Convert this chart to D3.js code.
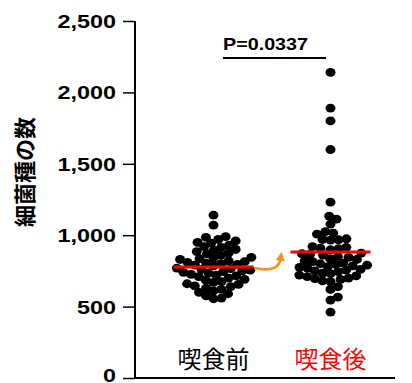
<!DOCTYPE html>
<html><head><meta charset="utf-8">
<script src="https://cdn.jsdelivr.net/npm/d3@7"></script>
<style>
html,body{margin:0;padding:0;background:#fff;}
svg{display:block;}
</style>
</head><body>
<svg id="c" width="412" height="383"></svg>
<script>
// ---- data ----
const categories = ["喫食前", "喫食後"];
const categoryColors = ["#000000", "#ff0000"];
const beforeValues = [1141, 1071,
  990, 985, 970, 960, 950, 945,
  930, 920, 915, 900, 895, 885, 875, 870, 860,
  845, 840, 835, 830, 820, 815, 810, 805, 800, 795, 790, 785,
  770, 765, 760, 755, 750, 745, 740, 735, 725, 720, 715, 710,
  700, 690, 685, 675, 670, 660, 655, 645, 640,
  630, 620, 610, 600, 590, 575, 560, 555];
const afterValues = [2140, 1890, 1800, 1600,
  1232, 1134, 1113, 1078,
  1025, 1015, 1008,
  975, 970, 968, 965,
  920, 915, 910, 905, 898,
  875, 870, 865, 860, 850, 845, 835, 830, 820, 815,
  805, 800, 795, 790, 785, 780, 775, 770, 760, 755, 750, 745,
  735, 730, 720, 715, 710, 700, 695, 690, 680, 675,
  640, 620, 567, 546, 462];
const centerLines = [777, 882];
const yTicks = [0, 500, 1000, 1500, 2000, 2500];
const pLabel = "P=0.0337";
const yLabel = "細菌種の数";

// ---- layout ----
const svg = d3.select("#c");
const axisX = 135, yBottom = 378, yTop = 21;
const y = d3.scaleLinear().domain([0, 2500]).range([yBottom, yTop]);
const x = d3.scaleBand().domain(categories).range([155, 389]).padding(0);
const cx = c => x(c) + x.bandwidth() / 2;

// y axis
const yAxis = d3.axisLeft(y).tickValues(yTicks).tickSize(12).tickPadding(7)
  .tickFormat(d3.format(","));
const gy = svg.append("g").attr("transform", `translate(${axisX},0)`).call(yAxis);
gy.select(".domain").attr("stroke", "#000").attr("stroke-width", 2)
  .attr("d", `M0,${yTop}V${yBottom}`);
gy.selectAll(".tick line").attr("stroke", "#000").attr("stroke-width", 1.5);
const sx = 1.3;
gy.selectAll(".tick text")
  .attr("font-family", "Liberation Sans, Arial, sans-serif")
  .attr("font-weight", "bold").attr("font-size", 18).attr("fill", "#000")
  .attr("x", -19 / sx).attr("dy", d => d === 0 ? "0.2em" : "0.36em")
  .attr("transform", `scale(${sx},1)`);

// x axis line
svg.append("line").attr("x1", axisX).attr("x2", 395)
  .attr("y1", yBottom).attr("y2", yBottom)
  .attr("stroke", "#000").attr("stroke-width", 2);

// y label
svg.append("text")
  .attr("transform", `translate(33,172) rotate(-90)`)
  .attr("text-anchor", "middle")
  .attr("font-family", "Noto Sans CJK JP")
  .attr("font-weight", "bold").attr("font-size", 22)
  .text(yLabel);

// beeswarm
const rx = 5, ry = 4.4;
const D = 7.6, xs = 1.05;
function swarm(vals) {
  const pts = [];
  const sorted = vals.slice().sort((a, b) => a - b);
  for (const v of sorted) {
    const py = y(v);
    const cands = [0];
    for (const p of pts) {
      const dy = p.y - py;
      if (Math.abs(dy) < D) {
        const dx = Math.sqrt(D * D - dy * dy) * xs;
        cands.push(p.x + dx + 0.01, p.x - dx - 0.01);
      }
    }
    cands.sort((a, b) => Math.abs(a) - Math.abs(b));
    let chosen = 0;
    for (const c of cands) {
      let ok = true;
      for (const p of pts) {
        const dx = (p.x - c) / xs, dy = p.y - py;
        if (dx * dx + dy * dy < D * D - 0.05) { ok = false; break; }
      }
      if (ok) { chosen = c; break; }
    }
    pts.push({x: chosen, y: py, v});
  }
  return pts;
}
const groups = [beforeValues, afterValues];
groups.forEach((vals, i) => {
  const pts = swarm(vals);
  svg.append("g").selectAll("ellipse").data(pts).join("ellipse")
    .attr("cx", d => cx(categories[i]) + d.x)
    .attr("cy", d => d.y)
    .attr("rx", rx).attr("ry", ry).attr("fill", "#000");
});

// center lines
centerLines.forEach((v, i) => {
  svg.append("line")
    .attr("x1", cx(categories[i]) - 40).attr("x2", cx(categories[i]) + 40)
    .attr("y1", y(v)).attr("y2", y(v))
    .attr("stroke", "#ff0000").attr("stroke-width", 3);
});

// arrow
const orange = "#f7901e";
const ax0 = cx(categories[0]) + 41, ay0 = y(centerLines[0]) + 1;
const ax1 = cx(categories[1]) - 45, ay1 = y(centerLines[1]) + 2;
const defs = svg.append("defs");
defs.append("marker").attr("id", "ah").attr("viewBox", "0 0 10 10")
  .attr("refX", 2).attr("refY", 5).attr("markerWidth", 3.6).attr("markerHeight", 3.6)
  .attr("orient", "auto").attr("markerUnits", "strokeWidth")
  .append("path").attr("d", "M0,0L10,5L0,10z").attr("fill", orange);
const path = d3.path();
path.moveTo(ax0, ay0);
path.quadraticCurveTo(ax0 + 24, ay0 + 5, ax1 - 5, ay1 + 5);
svg.append("path").attr("d", path.toString()).attr("fill", "none")
  .attr("stroke", orange).attr("stroke-width", 2.6).attr("marker-end", "url(#ah)");

// category labels
categories.forEach((c, i) => {
  svg.append("text").attr("x", cx(c)).attr("y", 368)
    .attr("text-anchor", "middle")
    .attr("font-family", "Noto Sans CJK JP").attr("font-size", 24)
    .attr("fill", categoryColors[i]).text(c);
});

// p-value bracket
const px0 = 223, px1 = 326;
svg.append("line").attr("x1", px0).attr("x2", px1).attr("y1", 58).attr("y2", 58)
  .attr("stroke", "#000").attr("stroke-width", 2);
svg.append("text").attr("transform", `translate(${(px0 + 308) / 2},50) scale(1.16,1)`)
  .attr("text-anchor", "middle")
  .attr("font-family", "Liberation Sans, Arial, sans-serif")
  .attr("font-weight", "bold").attr("font-size", 17).text(pLabel);
</script>
</body></html>
